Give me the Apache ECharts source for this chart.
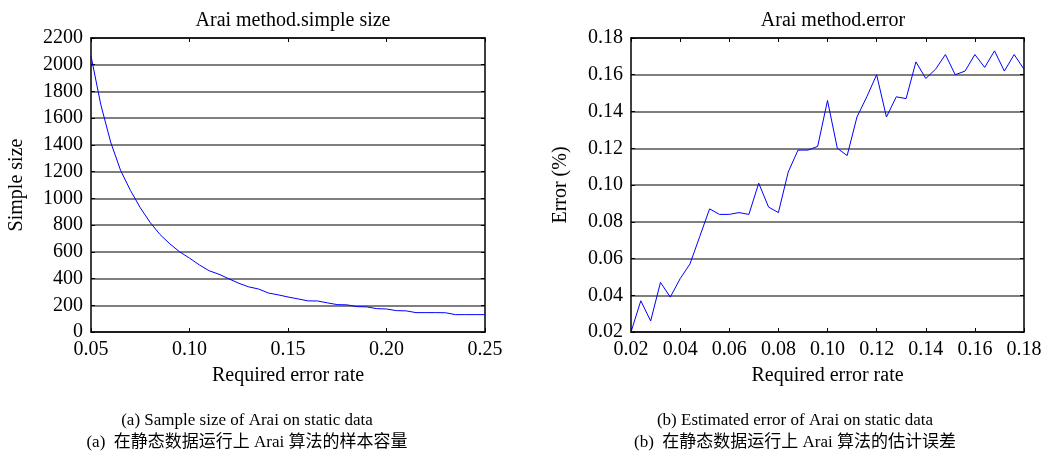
<!DOCTYPE html>
<html>
<head>
<meta charset="utf-8">
<script src="https://cdn.jsdelivr.net/npm/echarts@6/dist/echarts.min.js"></script>
<style>
  html, body { margin: 0; padding: 0; background: #fff; }
  #main { width: 1048px; height: 460px; }
</style>
</head>
<body>
<div id="main"></div>
<script>
// (a) sample size
var rateA = [0.050, 0.055, 0.060, 0.065, 0.070, 0.075, 0.080, 0.085, 0.090, 0.095,
             0.100, 0.105, 0.110, 0.115, 0.120, 0.125, 0.130, 0.135, 0.140, 0.145,
             0.150, 0.155, 0.160, 0.165, 0.170, 0.175, 0.180, 0.185, 0.190, 0.195,
             0.200, 0.205, 0.210, 0.215, 0.220, 0.225, 0.230, 0.235, 0.240, 0.245, 0.250];
var sizeA = [2065, 1700, 1420, 1210, 1060, 930, 820, 730, 660, 600,
             553, 502, 458, 432, 398, 365, 338, 322, 292, 278,
             262, 248, 233, 232, 218, 205, 203, 190, 188, 175,
             172, 160, 158, 145, 145, 145, 144, 130, 130, 130, 130];

// (b) estimated error
var rateB = [0.020, 0.024, 0.028, 0.032, 0.036, 0.040, 0.044, 0.048, 0.052, 0.056,
             0.060, 0.064, 0.068, 0.072, 0.076, 0.080, 0.084, 0.088, 0.092, 0.096,
             0.100, 0.104, 0.108, 0.112, 0.116, 0.120, 0.124, 0.128, 0.132, 0.136,
             0.140, 0.144, 0.148, 0.152, 0.156, 0.160, 0.164, 0.168, 0.172, 0.176, 0.180];
var errB = [0.020, 0.037, 0.026, 0.047, 0.039, 0.049, 0.057, 0.072, 0.087, 0.084,
            0.084, 0.085, 0.084, 0.101, 0.088, 0.085, 0.107, 0.119, 0.119, 0.121,
            0.146, 0.120, 0.116, 0.137, 0.148, 0.160, 0.137, 0.148, 0.147, 0.167,
            0.158, 0.163, 0.171, 0.160, 0.162, 0.171, 0.164, 0.173, 0.162, 0.171, 0.163];

var titles = ['Arai method.simple size', 'Arai method.error'];
var yNames = ['Simple size', 'Error (%)'];
var xName = 'Required error rate';
var captionsA = ['(a) Sample size of Arai on static data', '(a)  在静态数据运行上 Arai 算法的样本容量'];
var captionsB = ['(b) Estimated error of Arai on static data', '(b)  在静态数据运行上 Arai 算法的估计误差'];

var FONT = '"Liberation Serif", "Times New Roman", serif';
var CJK = '"Liberation Serif", "Noto Sans CJK SC", serif';

function pairs (xs, ys) {
  var out = [];
  for (var i = 0; i < xs.length; i++) out.push([xs[i], ys[i]]);
  return out;
}

function fix2 (v) { return v.toFixed(2); }

function bottomX (idx, min, max, step) {
  return {
    type: 'value', gridIndex: idx, min: min, max: max, interval: step,
    name: xName, nameLocation: 'middle', nameGap: 34,
    nameTextStyle: { fontFamily: FONT, fontSize: 20, color: '#000' },
    axisLine: { show: true, onZero: false, lineStyle: { color: '#000', width: 1.5 } },
    axisTick: { show: true, inside: true, length: 4, lineStyle: { color: '#000' } },
    axisLabel: { margin: 8, fontFamily: FONT, fontSize: 20, color: '#000', formatter: fix2 },
    splitLine: { show: false }
  };
}

function topX (idx, min, max, step) {
  return {
    type: 'value', gridIndex: idx, position: 'top', min: min, max: max, interval: step,
    axisLine: { show: true, onZero: false, lineStyle: { color: '#000', width: 1.5 } },
    axisTick: { show: true, inside: true, length: 4, lineStyle: { color: '#000' } },
    axisLabel: { show: false },
    splitLine: { show: false }
  };
}

function leftY (idx, min, max, step, gap, fmt) {
  return {
    type: 'value', gridIndex: idx, min: min, max: max, interval: step,
    name: yNames[idx], nameLocation: 'middle', nameGap: gap,
    nameTextStyle: { fontFamily: FONT, fontSize: 20, color: '#000' },
    axisLine: { show: true, onZero: false, lineStyle: { color: '#000', width: 1.5 } },
    axisTick: { show: true, inside: true, length: 4, lineStyle: { color: '#000' } },
    axisLabel: { margin: 8, fontFamily: FONT, fontSize: 20, color: '#000', formatter: fmt },
    splitLine: { show: true, lineStyle: { color: '#555', width: 1.5 } }
  };
}

function rightY (idx, min, max, step) {
  return {
    type: 'value', gridIndex: idx, position: 'right', min: min, max: max, interval: step,
    axisLine: { show: true, onZero: false, lineStyle: { color: '#000', width: 1.5 } },
    axisTick: { show: true, inside: true, length: 4, lineStyle: { color: '#000' } },
    axisLabel: { show: false },
    splitLine: { show: false }
  };
}

function caption (lines, cx) {
  return [
    { type: 'text', x: cx, y: 421, style: { text: lines[0], align: 'center', verticalAlign: 'middle',
      font: '17px ' + FONT, fill: '#000' } },
    { type: 'text', x: cx, y: 443, style: { text: lines[1], align: 'center', verticalAlign: 'middle',
      font: '17px ' + CJK, fill: '#000' } }
  ];
}

var myChart = echarts.init(document.getElementById('main'));

var option = {
  backgroundColor: '#fff',
  animation: false,
  title: [
    { text: titles[0], left: 288, top: 6, textAlign: 'center',
      textStyle: { fontFamily: FONT, fontSize: 20, fontWeight: 'normal', color: '#000' } },
    { text: titles[1], left: 828, top: 6, textAlign: 'center',
      textStyle: { fontFamily: FONT, fontSize: 20, fontWeight: 'normal', color: '#000' } }
  ],
  grid: [
    { left: 91, top: 38, width: 394, height: 294 },
    { left: 631, top: 38, width: 393, height: 294 }
  ],
  xAxis: [
    bottomX(0, 0.05, 0.25, 0.05),
    topX(0, 0.05, 0.25, 0.05),
    bottomX(1, 0.02, 0.18, 0.02),
    topX(1, 0.02, 0.18, 0.02)
  ],
  yAxis: [
    leftY(0, 0, 2200, 200, 64, function (v) { return v; }),
    rightY(0, 0, 2200, 200),
    leftY(1, 0.02, 0.18, 0.02, 60, fix2),
    rightY(1, 0.02, 0.18, 0.02)
  ],
  series: [
    {
      type: 'line', xAxisIndex: 0, yAxisIndex: 0, data: pairs(rateA, sizeA),
      showSymbol: false, lineStyle: { color: '#0000ff', width: 1 }
    },
    {
      type: 'line', xAxisIndex: 2, yAxisIndex: 2, data: pairs(rateB, errB),
      showSymbol: false, lineStyle: { color: '#0000ff', width: 1 }
    }
  ],
  graphic: caption(captionsA, 247).concat(caption(captionsB, 795))
};

myChart.setOption(option);
</script>
</body>
</html>
